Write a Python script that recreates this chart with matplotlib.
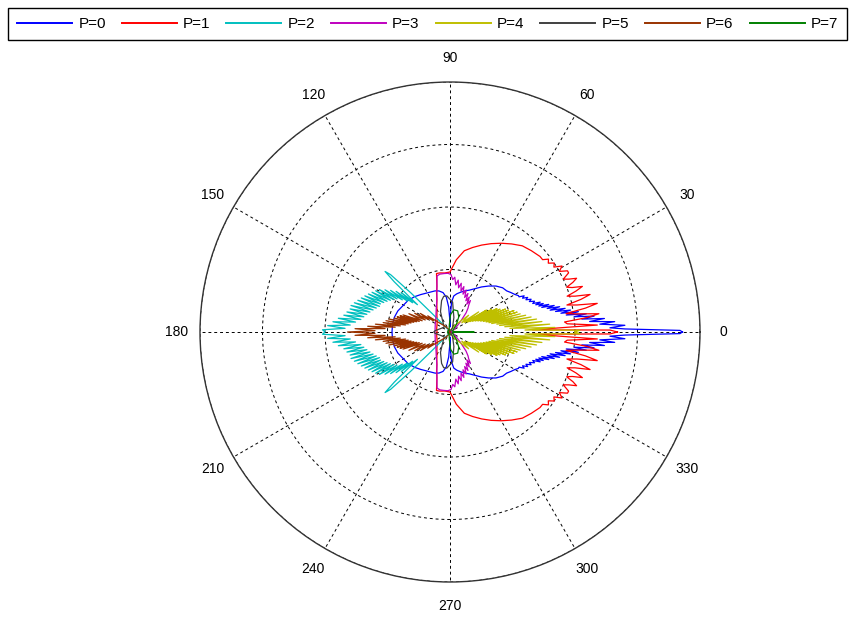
import numpy as np
import matplotlib
matplotlib.use("Agg")
import matplotlib.pyplot as plt

plt.rcParams['font.family'] = ['Liberation Sans', 'DejaVu Sans']

labels = ['P=0', 'P=1', 'P=2', 'P=3', 'P=4', 'P=5', 'P=6', 'P=7']
colors = ['#0000FF', '#FF0000', '#00BFBF', '#BF00BF', '#BFBF00', '#404040', '#993300', '#008000']

# upper half of each pattern (deg, normalised radius); patterns are symmetric about 0 deg
p0_th = [0, 0.4, 1.0, 1.5, 2.2, 3.0, 3.6, 4.3, 5.0, 5.6, 6.3, 7.0, 7.6, 8.3, 9.0, 9.6, 10.3, 11.0,
         11.6, 12.3, 13.0, 13.6, 14.3, 15.0, 15.6, 16.3, 17.0, 17.6, 18.3, 19.0, 20, 21, 22, 23, 24,
         25, 26, 27, 28, 30, 33, 36, 40, 45, 50, 55, 60, 65, 70, 75, 80, 84, 87, 89, 90, 91, 93, 96,
         100, 105, 110, 119, 128, 135, 143, 150, 158, 165, 172, 180]
p0_r = [0.93, 0.92, 0.70, 0.64, 0.70, 0.60, 0.66, 0.56, 0.62, 0.53, 0.58, 0.50, 0.55, 0.47, 0.52,
        0.45, 0.49, 0.43, 0.47, 0.41, 0.45, 0.40, 0.43, 0.38, 0.41, 0.37, 0.39, 0.36, 0.38, 0.35,
        0.36, 0.34, 0.35, 0.33, 0.34, 0.32, 0.33, 0.31, 0.31, 0.30, 0.29, 0.28, 0.275, 0.26, 0.24,
        0.22, 0.20, 0.185, 0.175, 0.165, 0.155, 0.145, 0.12, 0.06, 0.02, 0.05, 0.10, 0.14, 0.16,
        0.17, 0.175, 0.18, 0.19, 0.20, 0.21, 0.215, 0.225, 0.23, 0.232, 0.232]

p1_th = [0, 0.7, 1.5, 2.7, 4.0, 5.0, 6.0, 7.0, 8.0, 9.0, 10.0, 11.0, 12.0, 13.0, 14.0, 15.0, 16.0,
         17.0, 18.0, 19.0, 20.0, 21.0, 22.0, 23.0, 24.0, 25.0, 26.5, 27.5, 29.0, 30.5, 32.0, 33.5,
         35.0, 36.5, 38.0, 40, 45, 50, 55, 60, 65, 70, 75, 80, 85, 90, 95, 100, 103, 106, 109, 112,
         116, 120, 128, 137, 150, 165, 180]
p1_r = [0.67, 0.64, 0.33, 0.59, 0.47, 0.46, 0.55, 0.60, 0.52, 0.47, 0.55, 0.60, 0.52, 0.48, 0.54,
        0.58, 0.52, 0.49, 0.53, 0.56, 0.52, 0.50, 0.53, 0.55, 0.52, 0.50, 0.53, 0.53, 0.50, 0.52,
        0.49, 0.50, 0.48, 0.49, 0.47, 0.47, 0.46, 0.45, 0.43, 0.41, 0.39, 0.37, 0.35, 0.33, 0.29,
        0.24, 0.237, 0.24, 0.24, 0.19, 0.165, 0.14, 0.12, 0.104, 0.085, 0.07, 0.06, 0.055, 0.052]

p2_th = [0, 90, 125, 132, 134, 135, 136, 137, 138, 139, 140, 141, 142, 143, 144, 145, 146, 147, 148,
         149, 150, 151, 152, 153, 154, 155, 156, 157, 158, 159, 160, 161, 162, 163, 164, 165, 166,
         167, 168, 169, 170, 171, 172, 173, 174, 175, 176, 177, 178, 179, 180]
p2_r = [0.0, 0.0, 0.01, 0.03, 0.10, 0.22, 0.33, 0.355, 0.30, 0.22, 0.17, 0.25, 0.19, 0.27, 0.21,
        0.29, 0.23, 0.31, 0.25, 0.33, 0.26, 0.34, 0.27, 0.35, 0.28, 0.36, 0.29, 0.37, 0.30, 0.38,
        0.30, 0.39, 0.31, 0.40, 0.32, 0.41, 0.33, 0.41, 0.34, 0.42, 0.35, 0.43, 0.36, 0.45, 0.38,
        0.47, 0.40, 0.49, 0.42, 0.51, 0.50]

p3_th = [0, 30, 45, 50, 53, 55, 57, 59, 61, 63, 65, 67, 69, 71, 73, 75, 77, 79, 81, 83, 85, 87, 89,
         92, 96, 100, 103, 106, 112, 120, 135, 150, 180]
p3_r = [0.0, 0.02, 0.06, 0.10, 0.12, 0.13, 0.15, 0.13, 0.16, 0.14, 0.17, 0.15, 0.18, 0.16, 0.19,
        0.17, 0.20, 0.18, 0.21, 0.19, 0.22, 0.21, 0.23, 0.235, 0.235, 0.235, 0.23, 0.19, 0.14, 0.11,
        0.08, 0.068, 0.06]

p4_th = [0, 0.8, 1.5, 2.5, 3.5, 4.5, 5.5, 6.5, 7.5, 8.5, 9.5, 10.5, 11.5, 12.5, 13.5, 14.5, 15.5,
         16.5, 17.5, 18.5, 19.5, 20.5, 21.5, 22.5, 23.5, 24.5, 25.5, 26.5, 27.5, 28.5, 29.5, 31, 33,
         35, 38, 42, 48, 55, 65, 90, 180]
p4_r = [0.50, 0.52, 0.30, 0.42, 0.24, 0.40, 0.22, 0.37, 0.20, 0.35, 0.19, 0.33, 0.17, 0.31, 0.16,
        0.29, 0.15, 0.28, 0.14, 0.27, 0.13, 0.25, 0.12, 0.24, 0.11, 0.22, 0.10, 0.21, 0.09, 0.19,
        0.08, 0.17, 0.07, 0.14, 0.06, 0.10, 0.05, 0.03, 0.01, 0.0, 0.0]

p5_th = [0, 60, 75, 85, 95, 100, 105, 115, 125, 140, 160, 175, 180]
p5_r = [0.0, 0.02, 0.06, 0.12, 0.145, 0.145, 0.13, 0.09, 0.05, 0.03, 0.04, 0.06, 0.065]

p6_th = [0, 90, 110, 130, 140, 144, 146, 148, 150, 152, 154, 156, 158, 160, 161, 162, 163, 164, 165,
         166, 167, 168, 169, 170, 171, 172, 173, 174, 175, 176, 177, 178, 179, 180]
p6_r = [0.0, 0.0, 0.01, 0.03, 0.06, 0.11, 0.08, 0.14, 0.10, 0.16, 0.11, 0.18, 0.12, 0.20, 0.13,
        0.21, 0.14, 0.22, 0.15, 0.23, 0.16, 0.25, 0.17, 0.26, 0.18, 0.27, 0.20, 0.30, 0.22, 0.33,
        0.26, 0.38, 0.30, 0.41]

p7_th = [0, 1, 3, 20, 50, 60, 70, 80, 88, 95, 110, 180]
p7_r = [0.095, 0.09, 0.02, 0.01, 0.04, 0.07, 0.09, 0.09, 0.07, 0.03, 0.01, 0.01]

series = [(p0_th, p0_r), (p1_th, p1_r), (p2_th, p2_r), (p3_th, p3_r),
          (p4_th, p4_r), (p5_th, p5_r), (p6_th, p6_r), (p7_th, p7_r)]

fig = plt.figure(figsize=(8.49, 6.19), dpi=100)
ax = fig.add_axes([200 / 849, 37 / 619, 500 / 849, 500 / 619], projection='polar')

for (th, r), c, lab in zip(series, colors, labels):
    th = np.array(th, dtype=float)
    r = np.array(r, dtype=float)
    full_th = np.deg2rad(np.r_[th, 360 - th[::-1]])
    full_r = np.r_[r, r[::-1]]
    ax.plot(full_th, full_r, color=c, lw=0.9, label=lab)

ax.set_ylim(0, 1)
ax.set_rgrids([0.25, 0.5, 0.75, 1.0], labels=[])
ax.set_thetagrids(np.arange(0, 360, 30), labels=[])
ax.grid(True, color='black', linestyle=(0, (3, 3)), linewidth=0.7)
ax.spines['polar'].set_color('#333333')
ax.spines['polar'].set_linewidth(1.0)
ax.tick_params(length=0)

for a in range(0, 360, 30):
    ax.text(np.deg2rad(a), 1.095, str(a), ha='center', va='center', fontsize=10)

leg = fig.legend(loc='upper left', bbox_to_anchor=(8 / 849, 1 - 8 / 619), ncol=8,
                 fontsize=11, handlelength=3.6, handletextpad=0.4, columnspacing=1.05,
                 fancybox=False, edgecolor='black', framealpha=1, borderpad=0.6,
                 borderaxespad=0)
leg.get_frame().set_linewidth(1.0)
for h in leg.get_lines():
    h.set_linewidth(1.4)

fig.savefig('out.png', dpi=100)
